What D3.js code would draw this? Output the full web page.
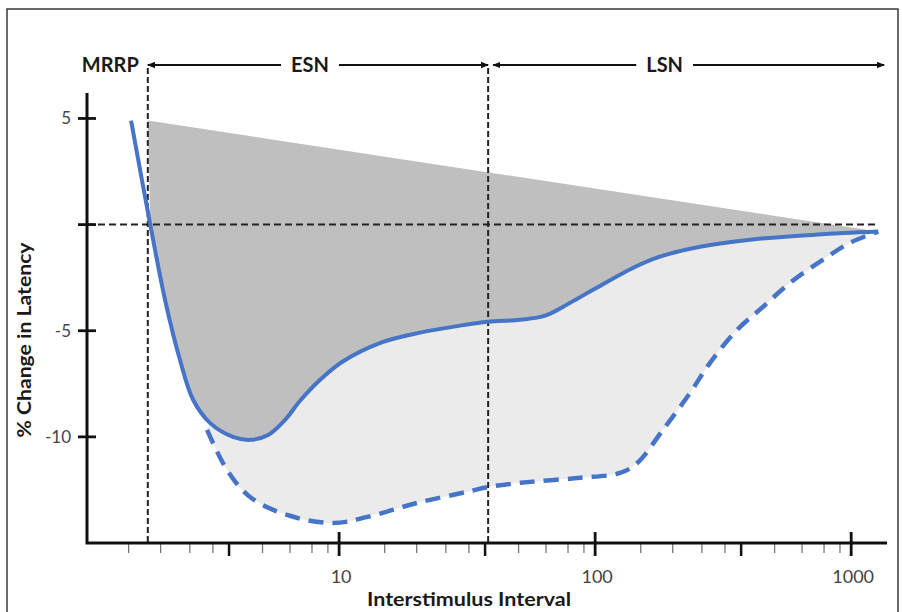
<!DOCTYPE html>
<html>
<head>
<meta charset="utf-8">
<script src="https://cdn.jsdelivr.net/npm/d3@7"></script>
<style>
  body { margin: 0; background: #fff; }
  text { font-family: Lato, "Open Sans", sans-serif; }
</style>
</head>
<body>
<div id="chart-area"></div>
<script>
// values: interstimulus interval (x) vs % change in latency (y)
const solidX = [1.54, 1.83, 2.09, 2.39, 2.69, 3.13, 3.85, 4.49, 5.28, 6.15, 7.04, 8.43, 10.3, 14.5, 20.7, 29.7, 38.2, 50.9, 63.8, 79.9, 98.2, 141, 179, 257, 403, 737, 1275];
const solidY = [4.9, 0, -3.54, -6.37, -8.25, -9.34, -10.0, -10.14, -9.91, -9.2, -8.3, -7.31, -6.46, -5.57, -5.09, -4.76, -4.58, -4.48, -4.29, -3.68, -3.07, -2.03, -1.51, -1.04, -0.71, -0.47, -0.33];
const dashedX = [3.05, 3.65, 4.49, 6.26, 9.48, 12.9, 20.2, 31.6, 38.2, 55.7, 87.4, 125, 146, 184, 235, 281, 359, 453, 578, 777, 991, 1275];
const dashedY = [-9.67, -11.56, -12.83, -13.68, -14.06, -13.77, -13.11, -12.59, -12.36, -12.12, -11.93, -11.70, -11.23, -9.67, -7.92, -6.51, -4.95, -3.87, -2.74, -1.65, -0.85, -0.33];
const ceilingX = [1.79, 1275];
const ceilingY = [4.9, -0.33];

// phase boundaries: MRRP | ESN | LSN
const phaseBounds = [1.79, 38.2, 1345];
const phaseLabels = ["ESN", "LSN"];

const yTicks = [5, 0, -5, -10];
const yTickLabels = ["5", "", "-5", "-10"];
const xMajor = [10, 100, 1000];
const xMajorLabels = ["10", "100", "1000"];
const minorPerDecade = [1.5, 2, 2.6, 3.2, 5, 6.4, 7.8, 9];
const boldPerDecade = [3.7];
const decades = [1, 10, 100];

const xMinor = decades.flatMap(d => minorPerDecade.map(m => m * d));
const xBold = decades.flatMap(d => boldPerDecade.map(m => m * d));

const margin = {top: 93, right: 15, bottom: 69, left: 87},
    width = 902 - margin.left - margin.right,
    height = 612 - margin.top - margin.bottom;

const root = d3.select("#chart-area")
  .append("svg")
    .attr("width", 902)
    .attr("height", 612);

// picture frame
root.append("rect")
  .attr("x", 7).attr("y", 9)
  .attr("width", 891).attr("height", 620)
  .attr("fill", "none")
  .attr("stroke", "#3a3a3a")
  .attr("stroke-width", 1.5);

const defs = root.append("defs");
defs.append("marker")
  .attr("id", "arrow")
  .attr("viewBox", "0 0 10 10")
  .attr("refX", 9).attr("refY", 5)
  .attr("markerWidth", 8).attr("markerHeight", 8)
  .attr("markerUnits", "userSpaceOnUse")
  .attr("orient", "auto-start-reverse")
  .append("path")
    .attr("d", "M0,1 L10,5 L0,9 Z")
    .attr("fill", "#111");

const svg = root.append("g")
  .attr("transform", `translate(${margin.left}, ${margin.top})`);

const x = d3.scaleLog()
  .domain([1.036, 1380])
  .range([0, width]);

const y = d3.scaleLinear()
  .domain([-15, 6.2])
  .range([height, 0]);

const curve = d3.curveCatmullRom.alpha(0.5);
const line = d3.line()
  .x(d => x(d[0]))
  .y(d => y(d[1]))
  .curve(curve);

const solid = d3.zip(solidX, solidY);
const dashed = d3.zip(dashedX, dashedY);
const ceiling = d3.zip(ceilingX, ceilingY);

// light band between solid and dashed curves
const solidTail = solid.filter(d => d[0] >= 3.1);
svg.append("path")
  .attr("d", line(dashed) + line(solidTail.slice().reverse()).replace(/^M/, "L") + "Z")
  .attr("fill", "#ebebeb");

// dark wedge between the ceiling line and the solid curve
const solidBody = solid.filter(d => d[0] >= 1.8);
svg.append("path")
  .attr("d", line(ceiling) + line(solidBody.slice().reverse()).replace(/^M/, "L") + "Z")
  .attr("fill", "#bfbfbf");

// zero reference
svg.append("line")
  .attr("x1", 0).attr("x2", x(1275))
  .attr("y1", y(0)).attr("y2", y(0))
  .attr("stroke", "#222")
  .attr("stroke-width", 2)
  .attr("stroke-dasharray", "7,4");

// phase boundaries
const arrowY = -28;
svg.selectAll(".bound")
  .data(phaseBounds.slice(0, 2))
  .enter()
  .append("line")
    .attr("x1", d => x(d)).attr("x2", d => x(d))
    .attr("y1", arrowY + 3).attr("y2", height)
    .attr("stroke", "#222")
    .attr("stroke-width", 2)
    .attr("stroke-dasharray", "6,3");

// curves
svg.append("path")
  .attr("d", line(dashed))
  .attr("fill", "none")
  .attr("stroke", "#4674c6")
  .attr("stroke-width", 4.5)
  .attr("stroke-dasharray", "15,9");

svg.append("path")
  .attr("d", line(solid))
  .attr("fill", "none")
  .attr("stroke", "#4674c6")
  .attr("stroke-width", 4);

// phase arrows
const spans = [[phaseBounds[0], phaseBounds[1], 0], [phaseBounds[1], phaseBounds[2], 5]];
spans.forEach((s, i) => {
  const x0 = x(s[0]) + s[2], x1 = x(s[1]);
  svg.append("line")
    .attr("x1", x0).attr("x2", x1)
    .attr("y1", arrowY).attr("y2", arrowY)
    .attr("stroke", "#111")
    .attr("stroke-width", 2)
    .attr("marker-start", "url(#arrow)")
    .attr("marker-end", "url(#arrow)");
  const cx = i == 0 ? (x0 + x1) / 2 - 8 : (x0 + x1) / 2 - 24;
  const t = svg.append("text")
    .attr("x", cx).attr("y", arrowY)
    .attr("dy", "0.36em")
    .attr("text-anchor", "middle")
    .style("font-size", "20px")
    .style("font-weight", "bold")
    .attr("fill", "#1a1a1a")
    .text(phaseLabels[i]);
  const bb = t.node().getBBox();
  svg.insert("rect", () => t.node())
    .attr("x", bb.x - 10).attr("y", bb.y)
    .attr("width", bb.width + 20).attr("height", bb.height)
    .attr("fill", "#fff");
});

svg.append("text")
  .attr("x", x(phaseBounds[0]) - 9).attr("y", arrowY)
  .attr("dy", "0.36em")
  .attr("text-anchor", "end")
  .style("font-size", "20px")
  .style("font-weight", "bold")
  .attr("fill", "#1a1a1a")
  .text("MRRP");

// x ticks
svg.append("g")
  .attr("transform", `translate(0, ${height})`)
  .call(d3.axisBottom(x).tickValues(xMinor).tickSize(10).tickFormat(""))
  .call(g => g.select(".domain").remove())
  .call(g => g.selectAll("line").attr("stroke", "#777").attr("stroke-width", 1.3));

svg.append("g")
  .attr("transform", `translate(0, ${height})`)
  .call(d3.axisBottom(x).tickValues(xBold).tickSize(13).tickFormat(""))
  .call(g => g.select(".domain").remove())
  .call(g => g.selectAll("line").attr("stroke", "#111").attr("stroke-width", 2.5));

svg.selectAll(".xmajor")
  .data(xMajor)
  .enter()
  .append("line")
    .attr("x1", d => x(d)).attr("x2", d => x(d))
    .attr("y1", height - 11).attr("y2", height + 13)
    .attr("stroke", "#111")
    .attr("stroke-width", 2.8);

svg.selectAll(".xlabel")
  .data(xMajor)
  .enter()
  .append("text")
    .attr("x", d => x(d) + 2)
    .attr("y", height + 40)
    .attr("text-anchor", "middle")
    .style("font-size", "18px")
    .attr("fill", "#444")
    .text((d, i) => xMajorLabels[i]);

// y ticks
svg.selectAll(".ytick")
  .data(yTicks)
  .enter()
  .append("line")
    .attr("x1", -9).attr("x2", 9)
    .attr("y1", d => y(d)).attr("y2", d => y(d))
    .attr("stroke", "#111")
    .attr("stroke-width", 2.8);

svg.selectAll(".ylabel")
  .data(yTicks)
  .enter()
  .append("text")
    .attr("x", -16)
    .attr("y", d => y(d))
    .attr("dy", "0.35em")
    .attr("text-anchor", "end")
    .style("font-size", "17px")
    .attr("fill", "#444")
    .text((d, i) => yTickLabels[i]);

// axis lines
svg.append("path")
  .attr("d", `M0,0 V${height} H${width}`)
  .attr("fill", "none")
  .attr("stroke", "#111")
  .attr("stroke-width", 3);

// axis titles
svg.append("text")
  .attr("x", width / 2 - 18)
  .attr("y", height + 63)
  .attr("text-anchor", "middle")
  .attr("textLength", 204)
  .attr("lengthAdjust", "spacingAndGlyphs")
  .style("font-size", "19px")
  .style("font-weight", "bold")
  .attr("fill", "#1a1a1a")
  .text("Interstimulus Interval");

svg.append("text")
  .attr("transform", `translate(${31 - margin.left}, ${340 - margin.top}) rotate(-90)`)
  .attr("text-anchor", "middle")
  .attr("textLength", 195)
  .attr("lengthAdjust", "spacingAndGlyphs")
  .style("font-size", "19px")
  .style("font-weight", "bold")
  .attr("fill", "#1a1a1a")
  .text("% Change in Latency");
</script>
</body>
</html>
